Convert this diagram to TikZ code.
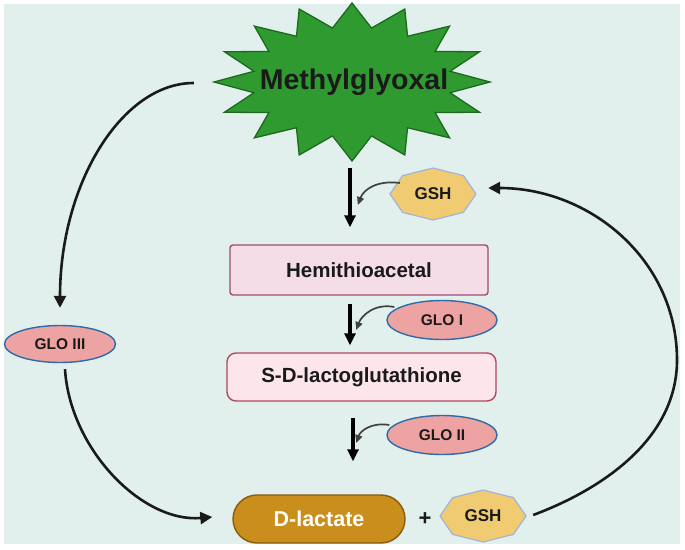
\documentclass[tikz,border=0pt]{standalone}
\usepackage{fontspec}
\setmainfont{Liberation Sans}
\usetikzlibrary{shapes.geometric,arrows.meta,positioning}

\definecolor{mint}{HTML}{E1F0EC}
\definecolor{starfill}{HTML}{2E9A30}
\definecolor{staredge}{HTML}{1D6A1F}
\definecolor{gshfill}{HTML}{F0CB72}
\definecolor{gshedge}{HTML}{A2B3D8}
\definecolor{hemifill}{HTML}{F5DDE8}
\definecolor{hemiedge}{HTML}{9E4E6E}
\definecolor{sdlfill}{HTML}{FCE6EC}
\definecolor{sdledge}{HTML}{B04860}
\definecolor{glofill}{HTML}{EEA3A3}
\definecolor{gloedge}{HTML}{2E6BA8}
\definecolor{lacfill}{HTML}{C98E1C}
\definecolor{lacedge}{HTML}{8A5A10}
\definecolor{ink}{HTML}{1A1A1A}

\begin{document}
\begin{tikzpicture}[x=1pt,y=-1pt,
  box/.style={draw=#1, line width=1.4pt, inner sep=0pt, text=ink,
    font=\bfseries\fontsize{20.5}{22}\selectfont},
  glo/.style={ellipse, draw=gloedge, fill=glofill, line width=1.4pt, inner sep=0pt,
    minimum width=110pt, minimum height=39pt, text=ink, font=\bfseries\fontsize{15.5}{17}\selectfont},
  gsh/.style={minimum width=86pt, minimum height=52pt, inner sep=0pt, text=ink,
    font=\bfseries\fontsize{17}{19}\selectfont},
  flow/.style={-{Triangle[length=12pt,width=11pt]}, line width=3.3pt, draw=black},
  loop/.style={-{Triangle[length=12pt,width=12pt]}, line width=2.6pt, draw=ink},
  nudge/.style={-{Triangle[length=8pt,width=7pt]}, line width=1.7pt, draw=black!75}
]
  % canvas
  \useasboundingbox (0,0) rectangle (685,549);
  \fill[white] (0,0) rectangle (685,549);
  \fill[mint] (4,4) rectangle (680,544);

  % the burst behind Methylglyoxal (16 points)
  \filldraw[fill=starfill, draw=staredge, line width=1.3pt, shift={(352,82)}]
    (0:138 and 79) \foreach \i in {0,...,15} {
      -- ({\i*22.5+11.25}:100 and 55) -- ({(\i+1)*22.5}:138 and 79) } -- cycle;
  \node[minimum width=276pt, minimum height=160pt, inner sep=0pt, text=ink,
    font=\bfseries\fontsize{28.5}{30}\selectfont] (mg) at (354,82) {Methylglyoxal};

  % GSH octagons
  \foreach \n/\p in {gshA/{(433,194)}, gshB/{(483,516)}} {
    \filldraw[fill=gshfill, draw=gshedge, line width=1.2pt, shift={\p}]
      (0:43 and 26) \foreach \k in {1,...,7} { -- (\k*45:43 and 26) } -- cycle;
    \node[gsh] (\n) at \p {GSH};
  }

  \node[box=hemiedge, fill=hemifill, rounded corners=3pt, minimum width=258pt,
    minimum height=50pt] (hemi) at (359,270) {Hemithioacetal};
  \node[box=sdledge, fill=sdlfill, rounded corners=9pt, minimum width=269pt,
    minimum height=48pt] (sdl) at (361.5,377) {S-D-lactoglutathione};
  \node[glo] (gloI) at (442,320) {GLO I};
  \node[glo] (gloII) at (442,435) {GLO II};
  \node[glo, minimum width=111pt, minimum height=37pt] (gloIII) at (60,344) {GLO III};
  \node[draw=lacedge, fill=lacfill, line width=1.4pt, rounded corners=24pt, inner sep=0pt,
    minimum width=172pt, minimum height=48pt, text=white,
    font=\bfseries\fontsize{21.5}{23}\selectfont] (dlac) at (319,519) {D-lactate};
  \node[font=\bfseries\fontsize{22}{24}\selectfont, text=ink] (plus) at (425,519) {+};

  % main pathway
  \draw[flow, shorten <=6pt, shorten >=17pt] (mg.south -| 350,0) -- (hemi.north -| 350,0);
  \draw[flow, shorten <=8pt, shorten >=7pt] (hemi.south -| 350,0) -- (sdl.north -| 350,0);
  \draw[flow, shorten <=16pt, shorten >=33pt] (sdl.south -| 353,0) -- (dlac.north -| 353,0);

  % cofactor and enzyme hooks
  \draw[nudge] ([shift={(10,-11)}]gshA.west) .. controls +(-22,-3) and +(6,-16) .. +(-42,22);
  \draw[nudge] ([shift={(8,-13)}]gloI.west) .. controls +(-20,-4) and +(5,-14) .. +(-38,23);
  \draw[nudge] ([shift={(3,-10)}]gloII.west) .. controls +(-18,-3) and +(4,-12) .. +(-33,18);

  % GLO III bypass
  \draw[loop] ([shift={(-22,1)}]mg.west) .. controls +(-72,0) and +(0,-124) .. ([yshift=17pt]gloIII.north);
  \draw[loop] ([shift={(5,6)}]gloIII.south) .. controls +(5,80) and +(-70,6) .. ([shift={(-20,-2)}]dlac.west);

  % GSH recycled
  \coordinate (turn) at (677,360);
  \draw[loop] ([shift={(7,-1)}]gshB.east) .. controls +(67,-25) and +(0,80) .. (turn)
    .. controls +(0,-100) and +(102,0) .. ([shift={(12,-6)}]gshA.east);
\end{tikzpicture}
\end{document}
